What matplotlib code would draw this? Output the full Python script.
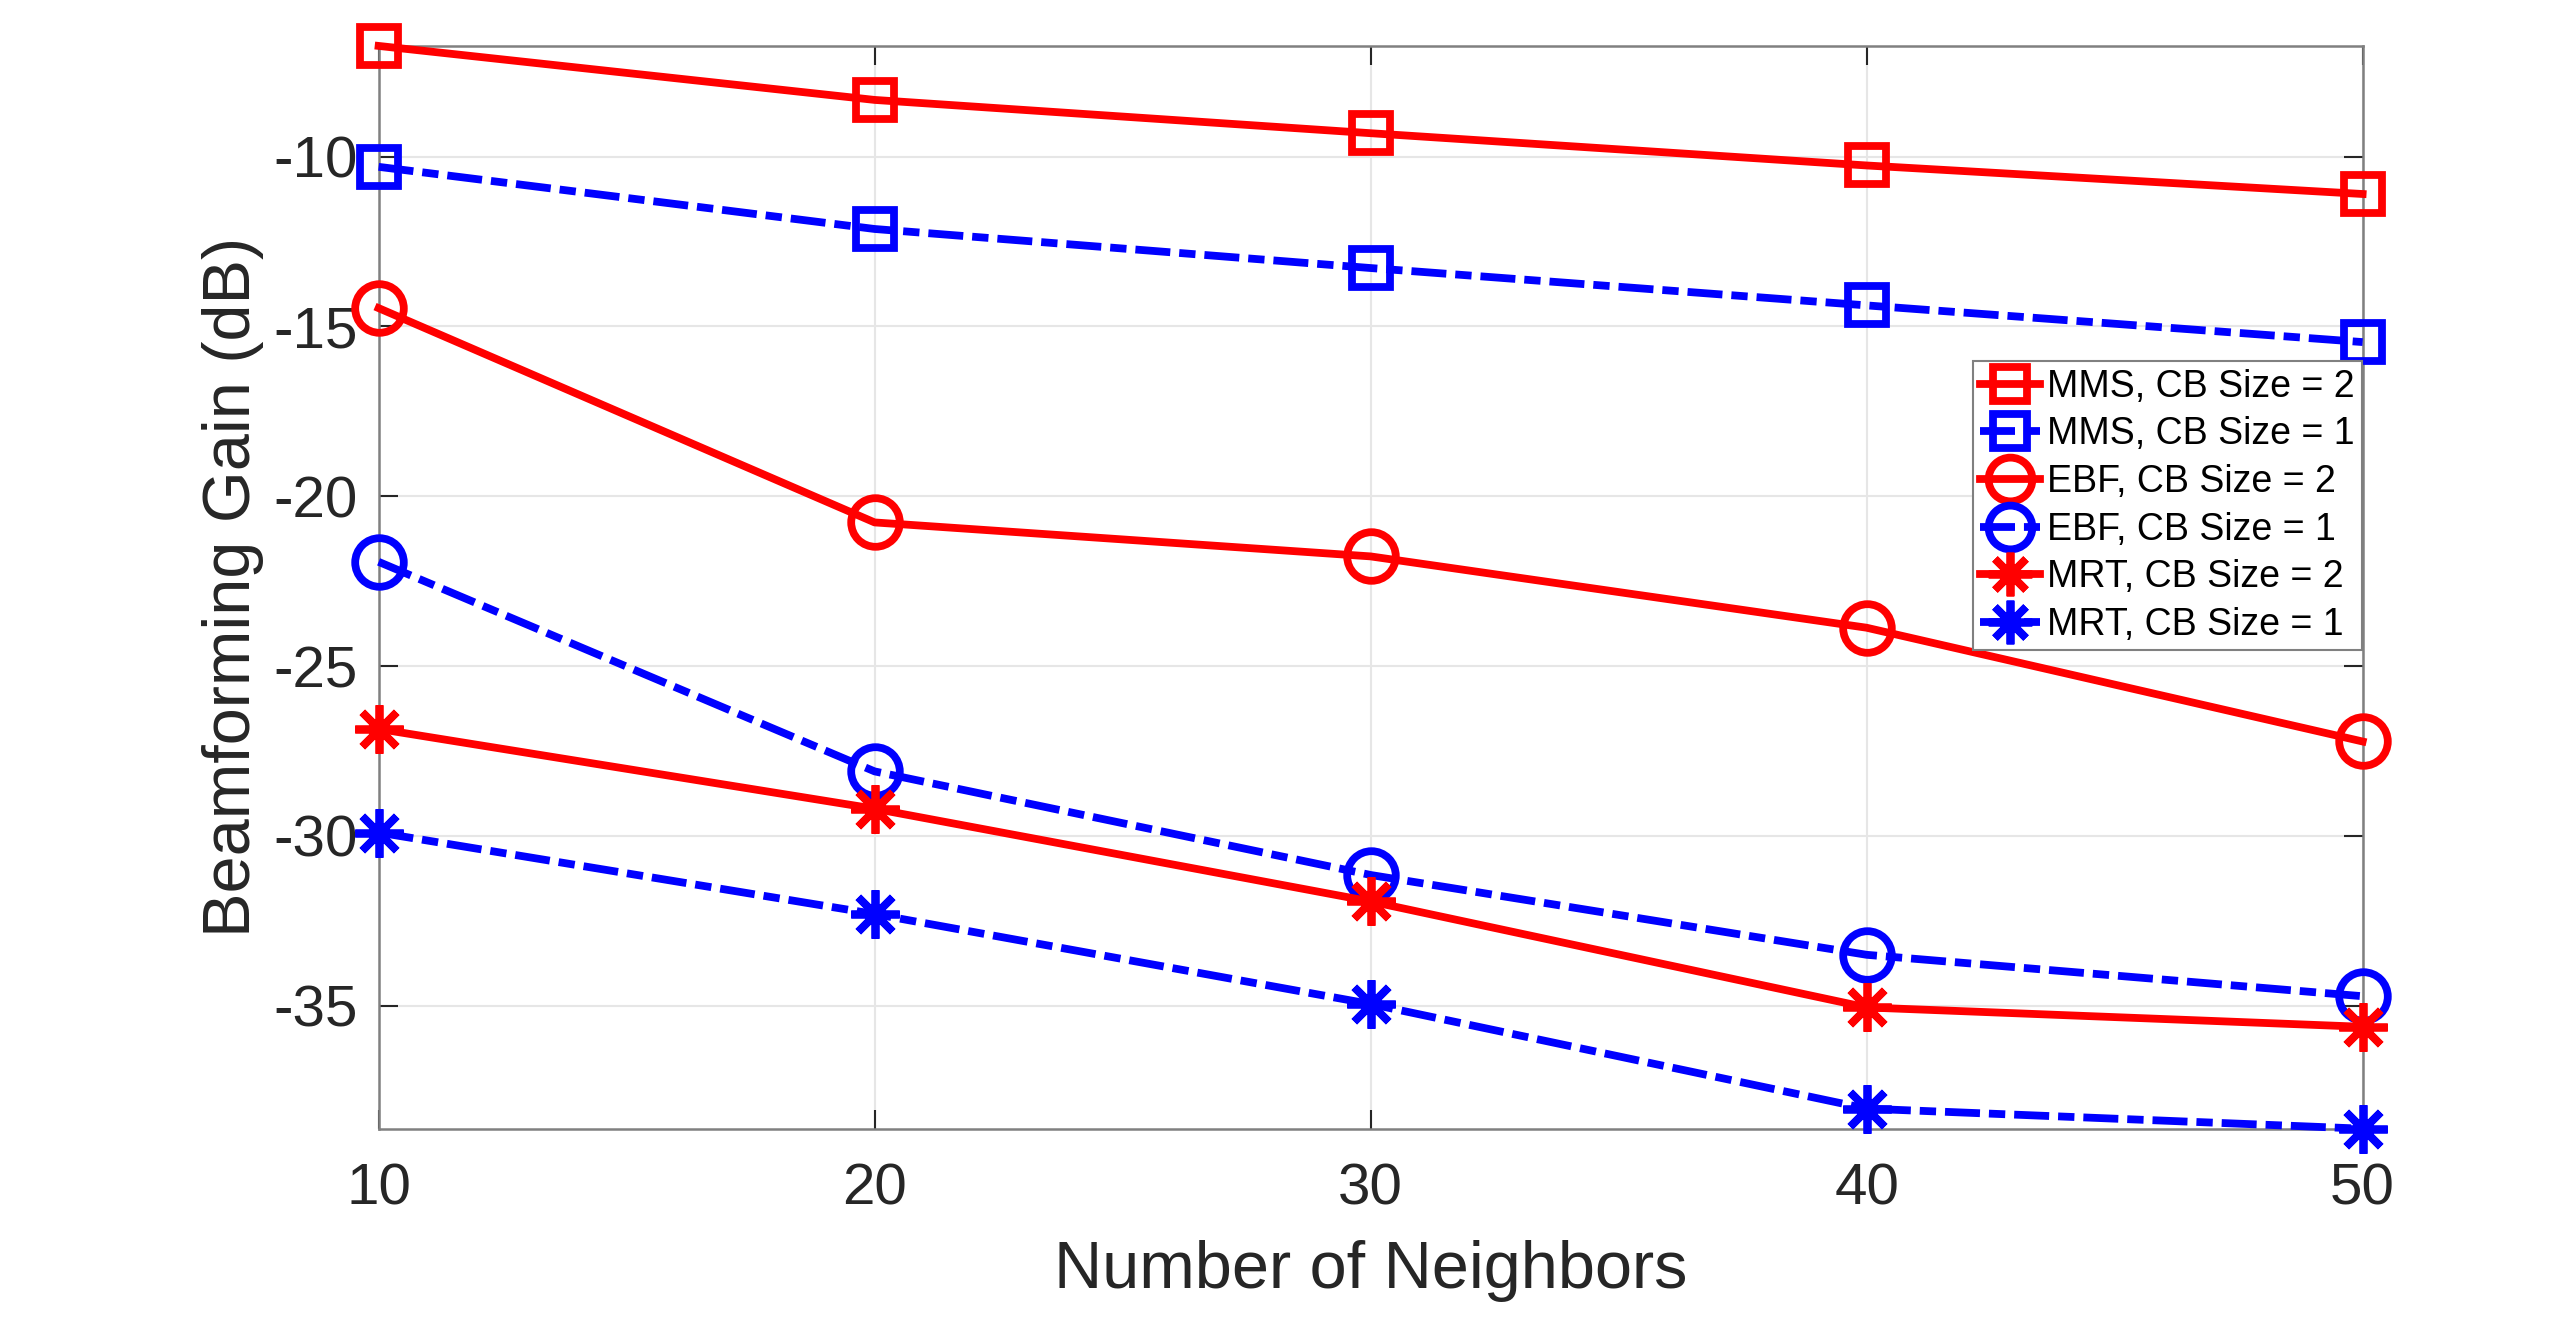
import numpy as np
import matplotlib
matplotlib.use('Agg')
import matplotlib.pyplot as plt

# Beamforming gain vs. number of neighbours
neighbors = [10, 20, 30, 40, 50]
mms_cb2 = [-6.74, -8.33, -9.31, -10.26, -11.10]
mms_cb1 = [-10.30, -12.13, -13.28, -14.38, -15.46]
ebf_cb2 = [-14.46, -20.77, -21.77, -23.87, -27.22]
ebf_cb1 = [-21.93, -28.10, -31.15, -33.50, -34.72]
mrt_cb2 = [-26.85, -29.20, -31.93, -35.05, -35.62]
mrt_cb1 = [-29.90, -32.30, -34.95, -38.03, -38.62]

labels = ['MMS, CB Size = 2', 'MMS, CB Size = 1',
          'EBF, CB Size = 2', 'EBF, CB Size = 1',
          'MRT, CB Size = 2', 'MRT, CB Size = 1']

plt.rcParams['font.family'] = ['Liberation Sans', 'DejaVu Sans']
plt.rcParams['axes.unicode_minus'] = False

fig = plt.figure(figsize=(25.6, 13.31), dpi=100)
ax = fig.add_axes([0.1479, 0.152, 0.775, 0.8135])

lw = 5.6
dashdot = (0, (4.5, 1.15, 2.1, 1.15))
asterisk = (8, 2, 0)

series = [
    (mms_cb2, 'red', '-', 's', 27.5),
    (mms_cb1, 'blue', dashdot, 's', 27.5),
    (ebf_cb2, 'red', '-', 'o', 35),
    (ebf_cb1, 'blue', dashdot, 'o', 35),
    (mrt_cb2, 'red', '-', asterisk, 35),
    (mrt_cb1, 'blue', dashdot, asterisk, 35),
]

for (vals, col, ls, mk, ms), lab in zip(series, labels):
    ax.plot(neighbors, vals, color=col, linestyle=ls, linewidth=lw,
            marker=mk, markersize=ms, markerfacecolor='none',
            markeredgewidth=lw, markeredgecolor=col, label=lab,
            clip_on=False, zorder=3)

all_vals = np.concatenate([mms_cb2, mms_cb1, ebf_cb2, ebf_cb1, mrt_cb2, mrt_cb1])
ax.set_xlim(min(neighbors), max(neighbors))
ax.set_ylim(all_vals.min(), all_vals.max())
ax.set_xticks(neighbors)
ax.set_yticks([-35, -30, -25, -20, -15, -10])

ax.grid(True, color='#e6e6e6', linewidth=1.5)
ax.set_axisbelow(True)
for sp in ax.spines.values():
    sp.set_color('#808080')
    sp.set_linewidth(1.8)
ax.tick_params(direction='in', length=14, width=1.5, color='#262626',
               labelsize=42, labelcolor='#262626', top=True, right=True)
ax.tick_params(axis='x', pad=24)
ax.tick_params(axis='y', pad=15)

ax.set_xlabel('Number of Neighbors', fontsize=48, color='#262626', va='center')
ax.set_ylabel('Beamforming Gain (dB)', fontsize=48, color='#262626', va='center')
ax.xaxis.set_label_coords(0.5, -0.131)
ax.yaxis.set_label_coords(-0.0733, 0.5)

leg = ax.legend(loc='upper left', bbox_to_anchor=(0.7707, 0.7285),
                bbox_transform=fig.transFigure, borderaxespad=0,
                fontsize=27, frameon=True, fancybox=False, framealpha=1,
                edgecolor='#808080', borderpad=0.2, labelspacing=0.31,
                handlelength=1.6, handletextpad=0.18, markerscale=0.9)
leg.get_frame().set_linewidth(1.5)

fig.savefig('out.png', dpi=100, facecolor='white')
